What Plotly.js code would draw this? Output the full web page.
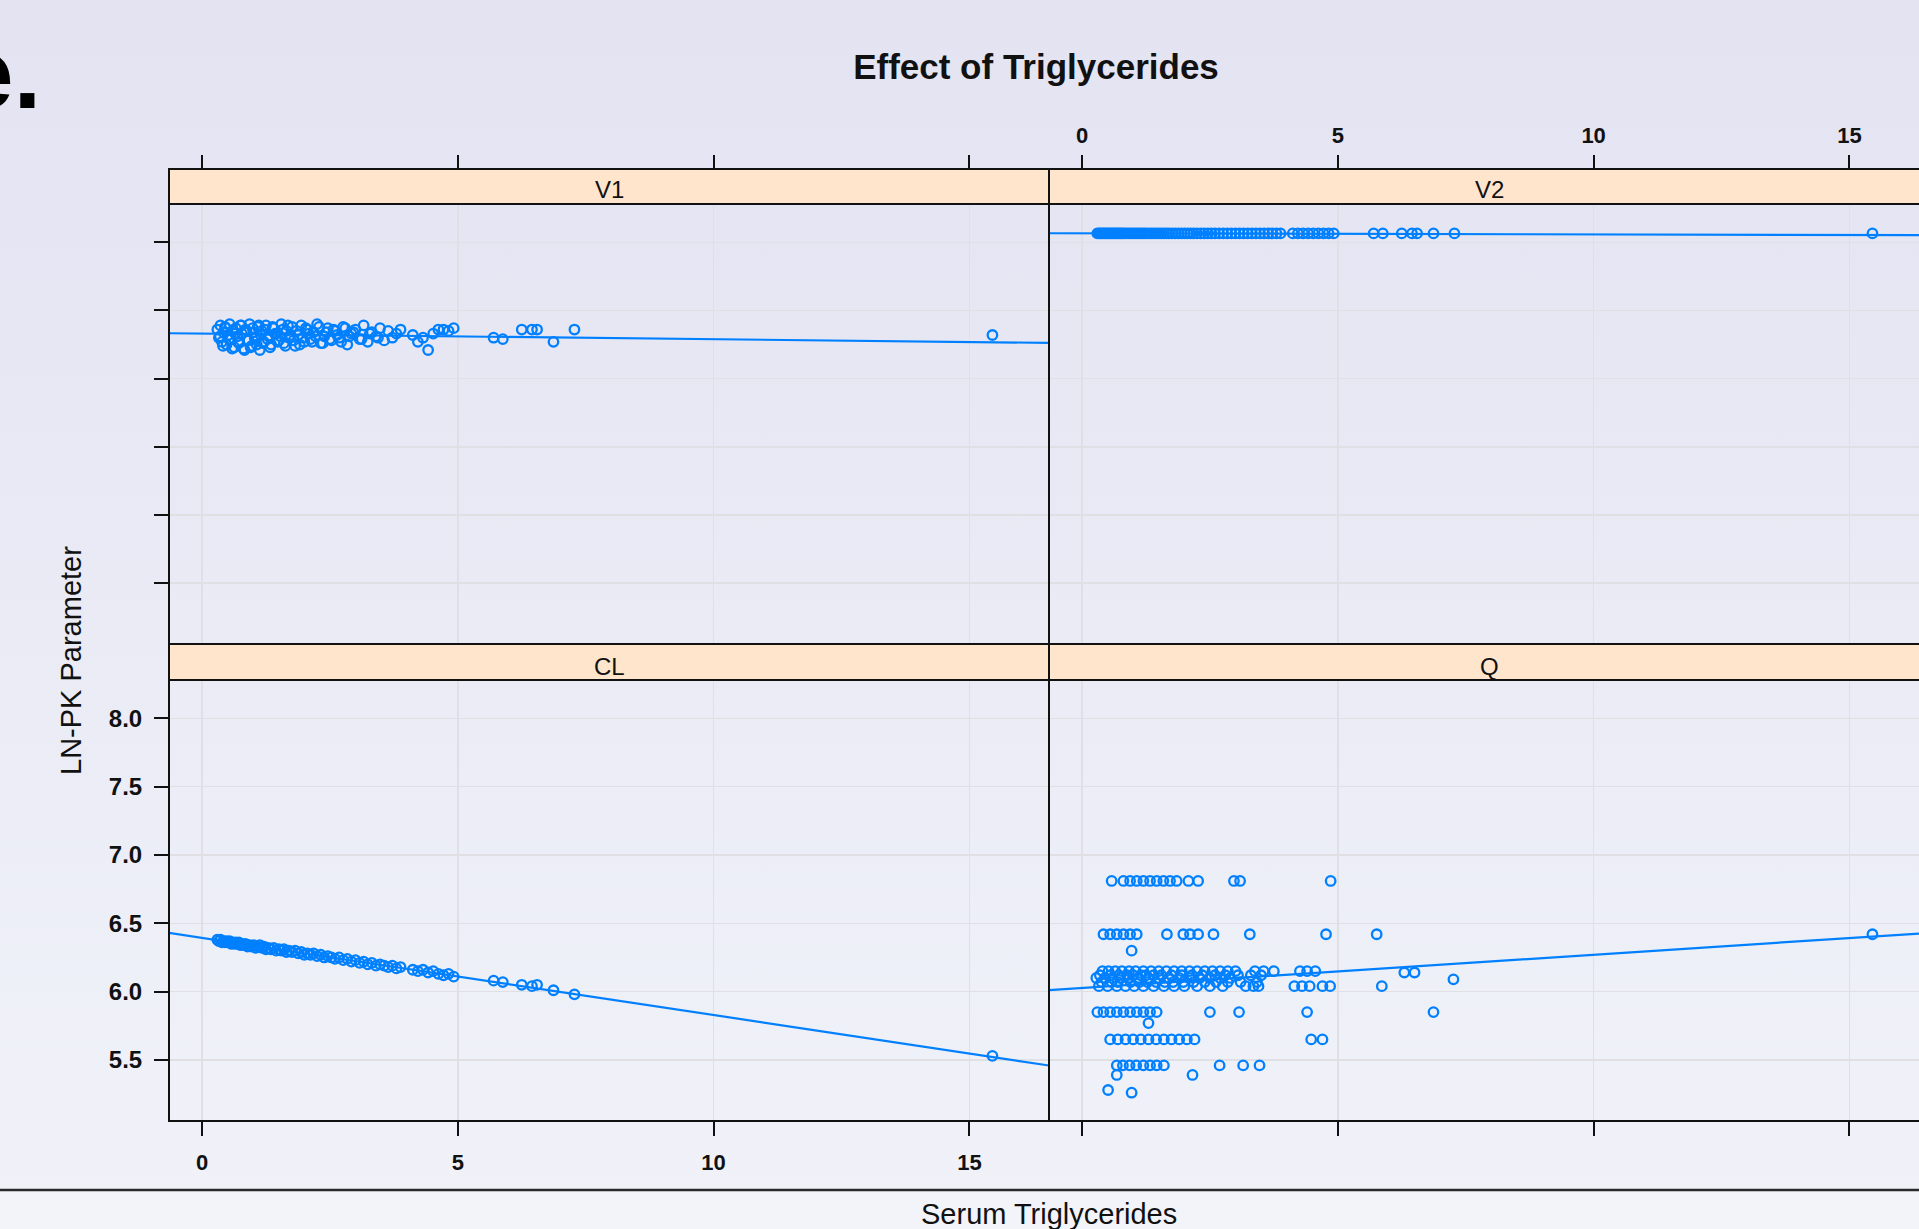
<!DOCTYPE html>
<html><head><meta charset="utf-8">
<script src="https://cdn.plot.ly/plotly-3.0.1.min.js"></script>
<style>
html,body{margin:0;padding:0;overflow:hidden;width:1919px;height:1229px;
background:linear-gradient(to bottom,#e3e3f2 0%,#e8e9f4 40%,#eef0f8 80%,#f1f2f8 100%);}
#chart{width:1919px;height:1229px;}
</style></head><body><div id="chart"></div>
<script>
// ---------------- data ----------------
const panelNames = ['V1', 'V2', 'CL', 'Q'];
const xTicks = [0, 5, 10, 15];
const yTicks = [5.5, 6.0, 6.5, 7.0, 7.5, 8.0];

// serum triglycerides (shared by V1, V2, CL panels)
const tg = [
 0.30,0.33,0.36,0.39,0.42,0.45,0.48,0.51,0.54,0.57,
 0.60,0.63,0.66,0.69,0.72,0.75,0.78,0.81,0.85,0.89,
 0.93,0.97,1.01,1.05,1.09,1.13,1.17,1.21,1.25,1.30,
 1.35,1.40,1.45,1.50,1.55,1.60,1.65,1.70,1.76,1.82,
 1.88,1.94,2.00,2.06,2.12,2.18,2.25,2.32,2.39,2.46,
 2.53,2.60,2.68,2.76,2.84,2.92,3.00,3.08,3.16,3.24,
 3.32,3.40,3.48,3.56,3.64,3.72,3.80,3.88,
 4.12,4.22,4.32,4.42,4.52,4.62,4.72,4.82,4.92,
 5.70,5.88,6.25,6.45,6.55,6.87,7.28,15.45];

const v1 = [
 7.36,7.30,7.39,7.27,7.34,7.38,7.25,7.32,7.40,7.29,
 7.35,7.23,7.37,7.31,7.26,7.39,7.33,7.22,7.36,7.28,
 7.40,7.24,7.34,7.30,7.38,7.21,7.35,7.27,7.39,7.31,
 7.25,7.37,7.33,7.28,7.40,7.26,7.35,7.30,7.38,7.24,
 7.32,7.39,7.27,7.36,7.29,7.34,7.40,7.26,7.31,7.37,
 7.28,7.35,7.30,7.38,7.25,7.33,7.36,7.29,7.39,7.27,
 7.34,7.31,7.37,7.28,7.35,7.30,7.33,7.36,
 7.32,7.27,7.30,7.21,7.33,7.36,7.36,7.35,7.37,
 7.30,7.29,7.36,7.36,7.36,7.27,7.36,7.32];

// additional V1 observations in the dense low-TG region
const tgExtra = [
 0.35,0.41,0.47,0.53,0.59,0.65,0.71,0.77,0.83,0.87,
 0.91,0.95,0.99,1.03,1.07,1.11,1.15,1.19,1.23,1.28,
 1.33,1.38,1.43,1.48,1.53,1.58,1.63,1.68,1.73,1.79,
 1.85,1.91,1.97,2.03,2.09,2.15,2.22,2.29,2.36,2.43,
 2.50,2.57,2.64,2.72,2.80,2.88,2.96,3.12,3.28,3.44];
const v1Extra = [
 7.31,7.24,7.37,7.29,7.22,7.33,7.27,7.39,7.21,7.35,
 7.28,7.23,7.37,7.30,7.25,7.39,7.32,7.26,7.36,7.29,
 7.23,7.38,7.33,7.27,7.31,7.36,7.24,7.39,7.32,7.28,
 7.35,7.25,7.30,7.37,7.33,7.27,7.31,7.38,7.26,7.34,
 7.29,7.36,7.32,7.27,7.37,7.31,7.34,7.29,7.33,7.30];

const v2 = [
 8.065,8.065,8.065,8.065,8.065,8.065,8.065,8.065,8.065,8.065,
 8.065,8.065,8.065,8.065,8.065,8.065,8.065,8.065,8.065,8.065,
 8.065,8.065,8.065,8.065,8.065,8.065,8.065,8.065,8.065,8.065,
 8.065,8.065,8.065,8.065,8.065,8.065,8.065,8.065,8.065,8.065,
 8.065,8.065,8.065,8.065,8.065,8.065,8.065,8.065,8.065,8.065,
 8.065,8.065,8.065,8.065,8.065,8.065,8.065,8.065,8.065,8.065,
 8.065,8.065,8.065,8.065,8.065,8.065,8.065,8.065,
 8.065,8.065,8.065,8.065,8.065,8.065,8.065,8.065,8.065,
 8.065,8.065,8.065,8.065,8.065,8.065,8.065,8.065];

const cl = [
 6.38,6.37,6.38,6.36,6.37,6.36,6.37,6.36,6.37,6.35,
 6.36,6.35,6.36,6.35,6.36,6.34,6.35,6.34,6.35,6.33,
 6.34,6.33,6.34,6.32,6.33,6.34,6.32,6.33,6.31,6.32,
 6.31,6.32,6.30,6.31,6.30,6.31,6.29,6.30,6.29,6.30,
 6.28,6.29,6.27,6.28,6.27,6.28,6.26,6.27,6.25,6.26,
 6.25,6.24,6.25,6.23,6.24,6.22,6.23,6.21,6.22,6.20,
 6.21,6.19,6.20,6.19,6.18,6.19,6.17,6.18,
 6.16,6.15,6.16,6.14,6.15,6.13,6.12,6.13,6.11,
 6.08,6.07,6.05,6.04,6.05,6.01,5.98,5.53];

// Q panel (own x values)
const qTg = [
 0.58,0.81,0.94,1.07,1.20,1.33,1.46,1.59,1.72,1.85,2.08,2.27,2.97,3.09,4.86,
 0.42,0.55,0.68,0.81,0.94,1.07,1.66,1.98,2.11,2.27,2.57,3.28,4.77,5.76,15.45,
 0.97,
 0.40,0.52,0.65,0.78,0.92,1.05,1.20,1.35,1.50,1.65,1.80,1.95,2.10,2.25,2.40,2.55,2.70,2.85,3.00,3.38,3.55,3.75,4.26,4.40,4.56,6.30,6.50,
 0.35,0.55,0.72,0.88,1.00,1.15,1.25,1.40,1.55,1.75,1.95,2.15,2.35,2.60,2.80,3.05,3.30,3.50,
 0.28,0.45,0.60,0.75,0.90,1.10,1.30,1.50,1.70,1.90,2.10,2.30,2.50,2.70,2.90,7.26,
 0.38,0.58,0.70,0.95,1.12,1.28,1.45,1.62,1.78,1.98,2.18,2.40,2.62,2.85,3.10,3.42,
 0.33,0.50,0.68,0.85,1.02,1.20,1.40,1.60,1.80,2.00,2.25,2.50,2.75,3.20,3.35,3.45,4.15,4.30,4.45,4.70,4.85,5.86,
 0.30,0.42,0.55,0.68,0.81,0.94,1.07,1.20,1.33,1.46,2.50,3.07,4.40,6.87,
 1.30,
 0.55,0.70,0.85,1.00,1.15,1.30,1.45,1.60,1.75,1.90,2.05,2.20,4.48,4.70,
 0.68,0.80,0.93,1.06,1.20,1.33,1.46,1.60,2.69,3.15,3.47,
 0.68,2.16,
 0.51,
 0.97];
const qVal = [
 6.81,6.81,6.81,6.81,6.81,6.81,6.81,6.81,6.81,6.81,6.81,6.81,6.81,6.81,6.81,
 6.42,6.42,6.42,6.42,6.42,6.42,6.42,6.42,6.42,6.42,6.42,6.42,6.42,6.42,6.42,
 6.30,
 6.15,6.15,6.15,6.15,6.15,6.15,6.15,6.15,6.15,6.15,6.15,6.15,6.15,6.15,6.15,6.15,6.15,6.15,6.15,6.15,6.15,6.15,6.15,6.15,6.15,6.14,6.14,
 6.12,6.12,6.12,6.12,6.12,6.12,6.12,6.12,6.12,6.12,6.12,6.12,6.12,6.12,6.12,6.12,6.12,6.12,
 6.10,6.10,6.10,6.10,6.10,6.10,6.10,6.10,6.10,6.10,6.10,6.10,6.10,6.10,6.10,6.09,
 6.07,6.07,6.07,6.07,6.07,6.07,6.07,6.07,6.07,6.07,6.07,6.07,6.07,6.07,6.07,6.07,
 6.04,6.04,6.04,6.04,6.04,6.04,6.04,6.04,6.04,6.04,6.04,6.04,6.04,6.04,6.04,6.04,6.04,6.04,6.04,6.04,6.04,6.04,
 5.85,5.85,5.85,5.85,5.85,5.85,5.85,5.85,5.85,5.85,5.85,5.85,5.85,5.85,
 5.77,
 5.65,5.65,5.65,5.65,5.65,5.65,5.65,5.65,5.65,5.65,5.65,5.65,5.65,5.65,
 5.46,5.46,5.46,5.46,5.46,5.46,5.46,5.46,5.46,5.46,5.46,
 5.39,5.39,
 5.28,
 5.26];

// linear-fit coefficients per panel (V1, V2, CL, Q)
const fitIntercept = [7.330, 8.066, 6.393, 6.026];
const fitSlope = [-0.0041, -0.0008, -0.0564, 0.0244];

// ---------------- layout geometry (pixels) ----------------
const W = 1919, H = 1229;
const px = p => p / W;
const py = p => 1 - p / H;
const colL = [169, 1049], colR = [1049, 1929];
const stripTop = [169, 204], panelTop = [204, 644];
const stripBot = [644, 680], panelBot = [680, 1121];
const xRangeL = [-0.645, 16.556], xRangeR = [-0.645, 16.36];
const yRange = [5.053, 8.281];

const blue = '#0080ff';
const gridCol = '#e0dfe3';
const fontFam = '"Liberation Sans", Arial, sans-serif';

// panels: [xaxis id, yaxis id, x data, y data, xrange]
const panels = [
  ['x3', 'y3', tg.concat(tgExtra), v1.concat(v1Extra), xRangeL],
  ['x4', 'y4', tg, v2, xRangeR],
  ['x',  'y',  tg, cl, xRangeL],
  ['x2', 'y2', qTg, qVal, xRangeR]
];

const traces = [];
panels.forEach((p, i) => {
  traces.push({
    type: 'scatter', mode: 'markers', name: panelNames[i],
    x: p[2], y: p[3], xaxis: p[0], yaxis: p[1],
    marker: {symbol: 'circle-open', size: 9.5, color: blue, line: {color: blue, width: 2.3}},
    showlegend: false, hoverinfo: 'x+y'
  });
  const xr = p[4];
  traces.push({
    type: 'scatter', mode: 'lines', name: panelNames[i] + ' fit',
    x: [xr[0], xr[1]],
    y: [fitIntercept[i] + fitSlope[i] * xr[0], fitIntercept[i] + fitSlope[i] * xr[1]],
    xaxis: p[0], yaxis: p[1],
    line: {color: blue, width: 2.2}, showlegend: false, hoverinfo: 'skip'
  });
});
// empty traces to instantiate the top tick axes
traces.push({type: 'scatter', x: [], y: [], xaxis: 'x5', yaxis: 'y3', showlegend: false});
traces.push({type: 'scatter', x: [], y: [], xaxis: 'x6', yaxis: 'y4', showlegend: false});

const xTickFont = {family: fontFam, size: 22, color: '#111', weight: 'bold'};
const yTickFont = {family: fontFam, size: 24, color: '#111', weight: 'bold'};

function xAx(domainPx, range, anchor, opts) {
  return Object.assign({
    domain: [px(domainPx[0]), Math.min(1, px(domainPx[1]))],
    range: range, anchor: anchor, tickvals: xTicks,
    showgrid: true, gridcolor: gridCol, gridwidth: 1.5,
    zeroline: false, showline: false,
    ticks: 'outside', ticklen: 14, tickwidth: 2, tickcolor: '#111',
    showticklabels: false, tickfont: xTickFont, ticklabelstandoff: 8,
    fixedrange: true
  }, opts || {});
}
function yAx(domainPx, anchor, opts) {
  return Object.assign({
    domain: [py(domainPx[1]), py(domainPx[0])],
    range: yRange, anchor: anchor, tickvals: yTicks, tickformat: '.1f',
    showgrid: true, gridcolor: gridCol, gridwidth: 1.5,
    zeroline: false, showline: false,
    ticks: '', ticklen: 14, tickwidth: 2, tickcolor: '#111',
    showticklabels: false, tickfont: yTickFont, ticklabelstandoff: 7,
    fixedrange: true
  }, opts || {});
}

function rect(x0, x1, y0, y1, fill, lw, layer) {
  return {type: 'rect', xref: 'paper', yref: 'paper',
    x0: px(x0), x1: px(x1), y0: py(y1), y1: py(y0),
    fillcolor: fill, line: {color: '#111', width: lw}, layer: layer};
}

const shapes = [
  {type: 'rect', xref: 'paper', yref: 'paper', x0: 0, x1: 1, y0: 0, y1: py(1190),
   fillcolor: '#f3f4f9', line: {width: 0}, layer: 'below'},
  {type: 'line', xref: 'paper', yref: 'paper', x0: 0, x1: 1, y0: py(1190), y1: py(1190),
   line: {color: '#2a2a2a', width: 2.5}},
  rect(colL[0], colL[1], stripTop[0], stripTop[1], '#ffe5cc', 2, 'below'),
  rect(colR[0], colR[1], stripTop[0], stripTop[1], '#ffe5cc', 2, 'below'),
  rect(colL[0], colL[1], stripBot[0], stripBot[1], '#ffe5cc', 2, 'below'),
  rect(colR[0], colR[1], stripBot[0], stripBot[1], '#ffe5cc', 2, 'below'),
  rect(colL[0], colL[1], panelTop[0], panelTop[1], 'rgba(0,0,0,0)', 2, 'above'),
  rect(colR[0], colR[1], panelTop[0], panelTop[1], 'rgba(0,0,0,0)', 2, 'above'),
  rect(colL[0], colL[1], panelBot[0], panelBot[1], 'rgba(0,0,0,0)', 2, 'above'),
  rect(colR[0], colR[1], panelBot[0], panelBot[1], 'rgba(0,0,0,0)', 2, 'above')
];

function stripLabel(text, xc, yc) {
  return {text: text, xref: 'paper', yref: 'paper', x: px(xc), y: py(yc),
    xanchor: 'center', yanchor: 'middle', showarrow: false,
    font: {family: fontFam, size: 24, color: '#111'}};
}

const annotations = [
  stripLabel(panelNames[0], 609, 190),
  stripLabel(panelNames[1], 1489, 190),
  stripLabel(panelNames[2], 609, 666),
  stripLabel(panelNames[3], 1489, 666),
  {text: 'LN-PK Parameter', xref: 'paper', yref: 'paper', x: px(71), y: py(661),
   xanchor: 'center', yanchor: 'middle', textangle: -90, showarrow: false,
   font: {family: fontFam, size: 29, color: '#111'}},
  {text: 'Serum Triglycerides', xref: 'paper', yref: 'paper', x: px(1049), y: py(1214),
   xanchor: 'center', yanchor: 'middle', showarrow: false,
   font: {family: fontFam, size: 29, color: '#111'}},
  {text: '<b>e.</b>', xref: 'paper', yref: 'paper', x: px(43), y: py(73),
   xanchor: 'right', yanchor: 'middle', showarrow: false,
   font: {family: fontFam, size: 100, color: '#000'}}
];

const layout = {
  width: W, height: H,
  margin: {l: 0, r: 0, t: 0, b: 0, pad: 0},
  paper_bgcolor: 'rgba(0,0,0,0)', plot_bgcolor: 'rgba(0,0,0,0)',
  showlegend: false,
  title: {text: '<b>Effect of Triglycerides</b>', x: px(1036), xref: 'paper', xanchor: 'center',
          y: py(67), yref: 'paper', yanchor: 'middle',
          font: {family: fontFam, size: 35, color: '#111'}},
  xaxis:  xAx(colL, xRangeL, 'y', {showticklabels: true}),
  yaxis:  yAx(panelBot, 'x', {ticks: 'outside', showticklabels: true}),
  xaxis2: xAx(colR, xRangeR, 'y2'),
  yaxis2: yAx(panelBot, 'x2'),
  xaxis3: xAx(colL, xRangeL, 'y3', {ticks: ''}),
  yaxis3: yAx(panelTop, 'x3', {ticks: 'outside'}),
  xaxis4: xAx(colR, xRangeR, 'y4', {ticks: ''}),
  yaxis4: yAx(panelTop, 'x4'),
  xaxis5: xAx(colL, xRangeL, 'free', {overlaying: 'x3', side: 'top', position: py(stripTop[0]), showgrid: false}),
  xaxis6: xAx(colR, xRangeR, 'free', {overlaying: 'x4', side: 'top', position: py(stripTop[0]), showgrid: false,
                                      showticklabels: true, ticklabelstandoff: 3}),
  shapes: shapes,
  annotations: annotations
};

Plotly.newPlot('chart', traces, layout, {displayModeBar: false, staticPlot: true});
</script></body></html>
